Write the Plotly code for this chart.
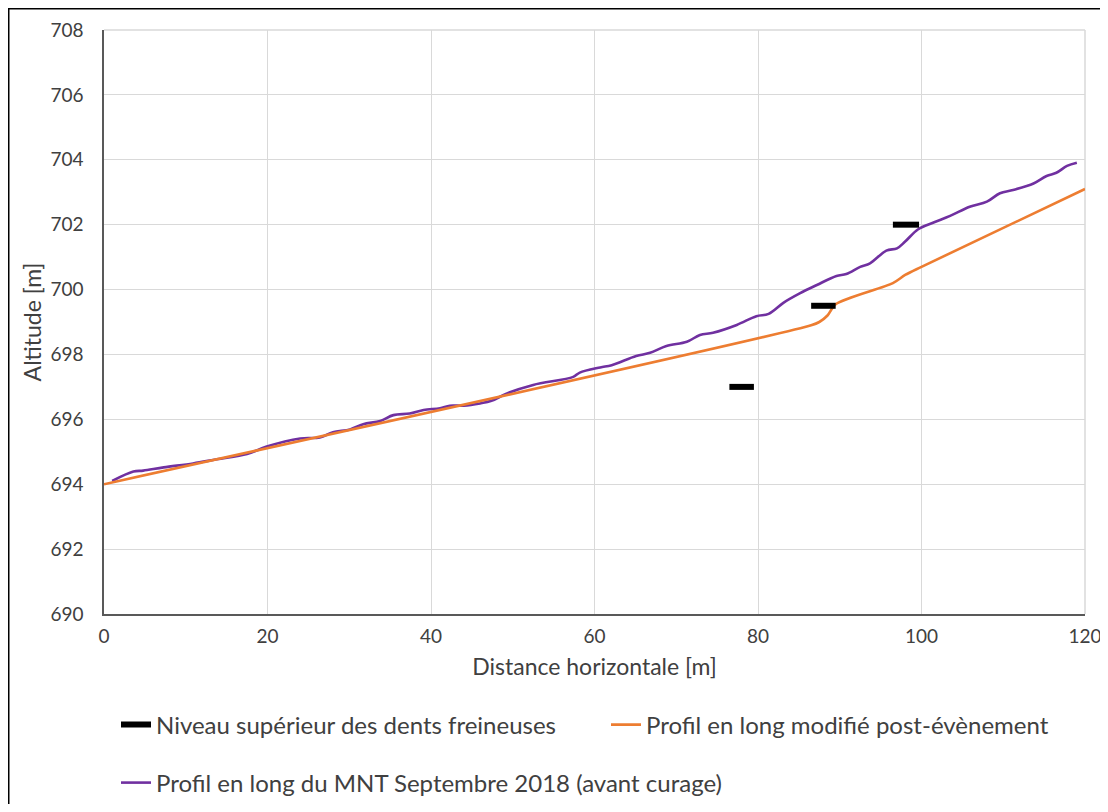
import plotly.graph_objects as go

# Data
dents_x = [76.5, 79.5, None, 86.5, 89.5, None, 96.5, 99.7]
dents_y = [697.0, 697.0, None, 699.5, 699.5, None, 702.0, 702.0]

post_x = [0, 86.5, 87.5, 88.5, 89.5, 96.5, 98.0, 100.0, 120.0]
post_y = [694.0, 698.9, 699.0, 699.2, 699.55, 700.2, 700.45, 700.7, 703.1]

mnt_x = [1.0, 3.6, 4.8, 7.3, 10.9, 13.8, 17.5, 19.9, 24.0, 26.4, 28.0, 30.1, 31.7, 33.8,
         35.4, 37.4, 39.1, 41.1, 42.3, 44.0, 46.0, 47.4, 49.3, 52.5, 57.4, 58.2, 60.7,
         62.1, 65.1, 66.8, 68.8, 71.3, 72.9, 74.5, 77.4, 79.8, 81.3, 83.1, 85.1, 87.2,
         89.6, 90.8, 92.5, 93.7, 95.7, 97.0, 98.0, 99.6, 101.4, 103.5, 105.9, 108.0,
         109.6, 111.2, 113.7, 115.3, 116.5, 117.8, 119.0]
mnt_y = [694.1, 694.39, 694.42, 694.52, 694.64, 694.77, 694.93, 695.16, 695.41, 695.44,
         695.60, 695.69, 695.85, 695.95, 696.13, 696.18, 696.29, 696.34, 696.42, 696.42,
         696.49, 696.57, 696.80, 697.06, 697.31, 697.44, 697.60, 697.67, 697.95, 698.05,
         698.26, 698.39, 698.60, 698.67, 698.91, 699.18, 699.25, 699.59, 699.88, 700.14,
         700.42, 700.48, 700.70, 700.81, 701.20, 701.27, 701.48, 701.86, 702.06, 702.27,
         702.55, 702.71, 702.97, 703.07, 703.27, 703.50, 703.60, 703.81, 703.91]

x_ticks = [0, 20, 40, 60, 80, 100, 120]
y_ticks = [690, 692, 694, 696, 698, 700, 702, 704, 706, 708]

FONT = "Lato"
TXT = "#404040"
GRID = "#D9D9D9"

fig = go.Figure()
fig.add_trace(go.Scatter(x=mnt_x, y=mnt_y, mode="lines",
                         name="Profil en long du MNT Septembre 2018 (avant curage)",
                         line=dict(color="#7030A0", width=2.6, shape="spline", smoothing=1.0),
                         legend="legend2"))
fig.add_trace(go.Scatter(x=post_x, y=post_y, mode="lines",
                         name="Profil en long modifié post-évènement",
                         line=dict(color="#ED7D31", width=2.6, shape="spline", smoothing=0.8),
                         legend="legend3"))
fig.add_trace(go.Scatter(x=dents_x, y=dents_y, mode="lines",
                         name="Niveau supérieur des dents freineuses",
                         line=dict(color="#000000", width=6),
                         legend="legend"))

# page is offset by 8px (body margin); figure coordinates below are page - 8
W, H = 1100, 796
L, T = 96, 22
R = W - (1085 - 8)
B = H - (614 - 8)
pw = W - L - R
ph = H - T - B

def px_x(p):
    return (p - L) / pw

def px_y(p):
    return (H - B - p) / ph

leg_common = dict(orientation="h", xanchor="left", yanchor="middle",
                  font=dict(family=FONT, size=24, color=TXT),
                  bgcolor="rgba(0,0,0,0)")

fig.update_layout(
    width=W, height=H,
    margin=dict(l=L, r=R, t=T, b=B, autoexpand=False),
    paper_bgcolor="white", plot_bgcolor="white",
    font=dict(family=FONT, size=19, color=TXT),
    showlegend=True,
    legend=dict(x=px_x(108), y=px_y(717), **leg_common),
    legend3=dict(x=px_x(598), y=px_y(717), **leg_common),
    legend2=dict(x=px_x(108), y=px_y(775), **leg_common),
    xaxis=dict(range=[0, 120], tickvals=x_ticks, showgrid=True, gridcolor=GRID,
               gridwidth=1, showline=True, linecolor="#595959", linewidth=1.5,
               zeroline=False, ticks="", ticklabelstandoff=4, ticklabeloverflow="allow",
               tickfont=dict(family=FONT, size=19, color=TXT),
               title=dict(text="Distance horizontale [m]", standoff=13,
                          font=dict(family=FONT, size=23, color=TXT))),
    yaxis=dict(range=[690, 708], tickvals=y_ticks, showgrid=True, gridcolor=GRID,
               gridwidth=1, showline=True, linecolor="#595959", linewidth=1.5,
               zeroline=False, ticks="", ticklabelstandoff=15,
               tickfont=dict(family=FONT, size=19, color=TXT),
               title=dict(text="Altitude [m]", standoff=2,
                          font=dict(family=FONT, size=23, color=TXT))),
)

# edge gridlines (right and top of plot area)
fig.add_shape(type="line", xref="paper", yref="paper", x0=1, x1=1, y0=0, y1=1,
              line=dict(color=GRID, width=1.5), layer="below")
fig.add_shape(type="line", xref="paper", yref="paper", x0=0, x1=1, y0=1, y1=1,
              line=dict(color=GRID, width=1.5), layer="below")

# outer chart border
fig.add_shape(type="rect", xref="paper", yref="paper",
              x0=px_x(0.75), x1=px_x(W + 5), y0=px_y(H + 5), y1=px_y(0.75),
              line=dict(color="#000000", width=1.5), fillcolor="rgba(0,0,0,0)", layer="below")

fig.write_html("out.html")
